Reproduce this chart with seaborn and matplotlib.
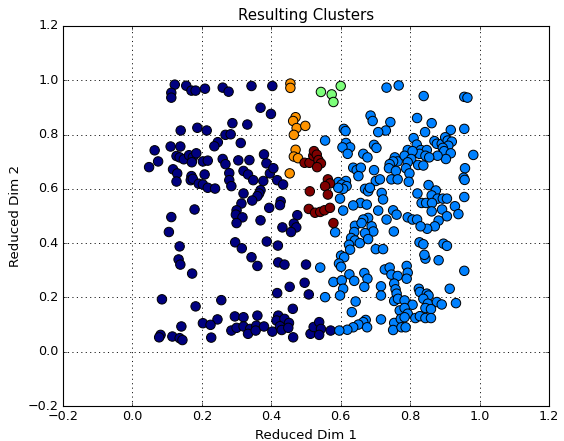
import matplotlib
matplotlib.use("Agg")
import matplotlib.pyplot as plt
import seaborn as sns
import pandas as pd
from matplotlib import cm

# ---------------- data ----------------
navy_x = [0.122, 0.155, 0.170, 0.182, 0.209, 0.112, 0.112, 0.260, 0.277,
          0.139, 0.187, 0.214, 0.268, 0.246, 0.236,
          0.064, 0.110, 0.138, 0.127, 0.136, 0.148, 0.163, 0.174, 0.184, 0.171,
          0.074, 0.048, 0.203, 0.217, 0.260, 0.268,
          0.117, 0.129, 0.127, 0.170, 0.168, 0.174, 0.191, 0.208, 0.203, 0.217, 0.238,
          0.279, 0.279, 0.285,
          0.179, 0.112, 0.105, 0.136, 0.133, 0.138, 0.172,
          0.085, 0.256, 0.182, 0.245, 0.203, 0.225, 0.141, 0.081, 0.077, 0.115, 0.136, 0.144, 0.227,
          0.343, 0.403, 0.369, 0.399, 0.288, 0.331, 0.283, 0.312, 0.379, 0.305, 0.337, 0.386,
          0.320, 0.333, 0.348, 0.377, 0.396, 0.406, 0.417, 0.434,
          0.320, 0.369, 0.365, 0.360, 0.345, 0.314, 0.300, 0.298, 0.317, 0.300,
          0.369, 0.394, 0.427, 0.425, 0.475, 0.465, 0.472, 0.457, 0.432,
          0.296, 0.315, 0.387, 0.419, 0.343,
          0.360, 0.420, 0.438, 0.500, 0.453, 0.496, 0.417, 0.508, 0.462,
          0.295, 0.320, 0.360, 0.420, 0.415, 0.438, 0.451,
          0.285, 0.300, 0.320, 0.339, 0.333, 0.357, 0.355, 0.379, 0.403, 0.425, 0.430,
          0.449, 0.463, 0.513, 0.522,
          0.538, 0.543, 0.538, 0.571]
navy_y = [0.984, 0.980, 0.962, 0.962, 0.969, 0.954, 0.936, 0.973, 0.958,
          0.815, 0.825, 0.815, 0.799, 0.772, 0.757,
          0.742, 0.756, 0.756, 0.721, 0.716, 0.709, 0.724, 0.716, 0.731, 0.698,
          0.701, 0.680, 0.701, 0.704, 0.710, 0.691,
          0.672, 0.657, 0.627, 0.647, 0.632, 0.637, 0.619, 0.653, 0.616, 0.604, 0.601,
          0.658, 0.632, 0.610,
          0.524, 0.496, 0.441, 0.388, 0.340, 0.321, 0.288,
          0.193, 0.190, 0.167, 0.119, 0.105, 0.099, 0.093, 0.062, 0.053, 0.056, 0.050, 0.043, 0.052,
          0.979, 0.979, 0.899, 0.876, 0.842, 0.837, 0.801, 0.769, 0.727, 0.705, 0.706, 0.694,
          0.666, 0.653, 0.632, 0.629, 0.657, 0.676, 0.632, 0.616,
          0.583, 0.595, 0.583, 0.573, 0.557, 0.546, 0.521, 0.505, 0.495, 0.474,
          0.484, 0.530, 0.554, 0.540, 0.503, 0.472, 0.458, 0.441, 0.458,
          0.403, 0.381, 0.406, 0.391, 0.348,
          0.316, 0.329, 0.321, 0.321, 0.239, 0.254, 0.216, 0.211, 0.158,
          0.130, 0.127, 0.133, 0.133, 0.115, 0.121, 0.106,
          0.078, 0.088, 0.093, 0.084, 0.066, 0.096, 0.078, 0.093, 0.074, 0.094, 0.080,
          0.088, 0.053, 0.066, 0.091,
          0.109, 0.084, 0.062, 0.078]

blue_x = [0.732, 0.767, 0.686, 0.692, 0.743, 0.730, 0.708, 0.609, 0.614, 0.555, 0.615,
          0.627, 0.605, 0.620, 0.696, 0.703, 0.665, 0.677, 0.756, 0.764, 0.751, 0.741,
          0.636, 0.646, 0.658, 0.651, 0.696, 0.739, 0.759,
          0.593, 0.615, 0.603, 0.617, 0.607, 0.593,
          0.701, 0.713, 0.746, 0.764,
          0.670, 0.679, 0.684, 0.718, 0.722, 0.598,
          0.657, 0.675, 0.636, 0.607, 0.708, 0.751, 0.761,
          0.679, 0.665, 0.732,
          0.584, 0.641, 0.660, 0.689, 0.694, 0.753, 0.639, 0.670,
          0.630, 0.641, 0.655, 0.679, 0.624, 0.627, 0.701, 0.722, 0.601, 0.610,
          0.541, 0.595, 0.601, 0.625, 0.668, 0.677, 0.639, 0.579, 0.603, 0.607, 0.668,
          0.727, 0.741, 0.746, 0.764, 0.754, 0.758, 0.761, 0.716, 0.716,
          0.555, 0.598, 0.643, 0.754, 0.765, 0.770, 0.632,
          0.672, 0.665, 0.651, 0.636, 0.619, 0.596, 0.676, 0.716, 0.754, 0.751, 0.773, 0.775,
          0.844, 0.882, 0.790, 0.793, 0.790, 0.956, 0.914, 0.825, 0.828, 0.848, 0.853, 0.838,
          0.784, 0.851, 0.877, 0.891, 0.932, 0.807, 0.784, 0.844, 0.860, 0.793, 0.784, 0.815,
          0.828, 0.844, 0.860, 0.787,
          0.839, 0.956, 0.965, 0.820, 0.862, 0.843, 0.917, 0.956, 0.810, 0.819, 0.793, 0.784,
          0.870, 0.877, 0.891, 0.901, 0.908, 0.920, 0.910, 0.894, 0.898, 0.917, 0.903,
          0.831, 0.848, 0.827, 0.844, 0.807, 0.803, 0.793, 0.879, 0.855, 0.982,
          0.788, 0.798, 0.796, 0.823, 0.838, 0.958, 0.954, 0.957, 0.853, 0.874, 0.862, 0.821,
          0.879, 0.894, 0.906, 0.833, 0.846, 0.863, 0.956, 0.862, 0.892, 0.929, 0.939, 0.906,
          0.793, 0.807, 0.820, 0.882, 0.871, 0.849, 0.830, 0.827, 0.838, 0.896, 0.906, 0.841]
blue_y = [0.973, 0.981, 0.870, 0.850, 0.846, 0.815, 0.809, 0.821, 0.813, 0.778, 0.769,
          0.753, 0.753, 0.729, 0.762, 0.751, 0.729, 0.716, 0.716, 0.701, 0.701, 0.691,
          0.678, 0.669, 0.678, 0.647, 0.669, 0.676, 0.666,
          0.625, 0.629, 0.616, 0.610, 0.600, 0.604,
          0.629, 0.635, 0.635, 0.635,
          0.600, 0.591, 0.604, 0.585, 0.561, 0.564,
          0.548, 0.542, 0.539, 0.520, 0.520, 0.521, 0.505,
          0.493, 0.487, 0.487,
          0.440, 0.464, 0.474, 0.462, 0.443, 0.443, 0.441, 0.437,
          0.419, 0.410, 0.400, 0.415, 0.394, 0.376, 0.378, 0.378, 0.354, 0.348,
          0.310, 0.325, 0.313, 0.285, 0.290, 0.269, 0.261, 0.257, 0.263, 0.232, 0.239,
          0.303, 0.310, 0.284, 0.279, 0.251, 0.230, 0.214, 0.241, 0.207,
          0.201, 0.207, 0.185, 0.187, 0.195, 0.152, 0.146,
          0.117, 0.109, 0.100, 0.090, 0.081, 0.078, 0.090, 0.119, 0.106, 0.080, 0.121, 0.090,
          0.343, 0.337, 0.316, 0.291, 0.269, 0.298, 0.232, 0.232, 0.220, 0.214, 0.207, 0.195,
          0.189, 0.177, 0.183, 0.174, 0.179, 0.173, 0.161, 0.161, 0.157, 0.140, 0.127, 0.124,
          0.131, 0.124, 0.124, 0.090,
          0.942, 0.939, 0.936, 0.861, 0.842, 0.809, 0.817, 0.821, 0.787, 0.763, 0.743, 0.722,
          0.776, 0.766, 0.766, 0.790, 0.778, 0.774, 0.759, 0.751, 0.739, 0.731, 0.710,
          0.743, 0.743, 0.729, 0.722, 0.739, 0.710, 0.698, 0.722, 0.716, 0.725,
          0.676, 0.657, 0.626, 0.688, 0.686, 0.676, 0.641, 0.633, 0.614, 0.594, 0.576, 0.583,
          0.564, 0.564, 0.564, 0.548, 0.548, 0.548, 0.570, 0.517, 0.524, 0.536, 0.507, 0.499,
          0.495, 0.487, 0.487, 0.483, 0.462, 0.453, 0.462, 0.403, 0.396, 0.398, 0.390, 0.357]

green_x = [0.543, 0.574, 0.579, 0.600]
green_y = [0.957, 0.948, 0.920, 0.979]

orange_x = [0.455, 0.455, 0.470, 0.463, 0.473, 0.498, 0.465, 0.470, 0.465, 0.477, 0.453]
orange_y = [0.988, 0.972, 0.864, 0.850, 0.824, 0.832, 0.799, 0.744, 0.719, 0.713, 0.657]

red_x = [0.496, 0.510, 0.521, 0.523, 0.531, 0.536, 0.543, 0.532, 0.563, 0.569,
         0.555, 0.563, 0.511, 0.508, 0.526, 0.541, 0.553, 0.569, 0.579]
red_y = [0.696, 0.696, 0.722, 0.739, 0.726, 0.706, 0.694, 0.680, 0.635, 0.620,
         0.610, 0.579, 0.591, 0.526, 0.512, 0.515, 0.521, 0.530, 0.474]

ticks = [-0.2, 0.0, 0.2, 0.4, 0.6, 0.8, 1.0, 1.2]

# ---------------- build frame ----------------
groups = [(0, navy_x, navy_y), (1, blue_x, blue_y), (2, green_x, green_y),
          (3, orange_x, orange_y), (4, red_x, red_y)]
rows = []
for lab, xs, ys in groups:
    for a, b in zip(xs, ys):
        rows.append({"x": a, "y": b, "cluster": lab})
df = pd.DataFrame(rows)

palette = {k: cm.jet(k / 4.0) for k in range(5)}

# ---------------- plot ----------------
plt.style.use("classic")
plt.rcParams["figure.facecolor"] = "white"
plt.rcParams["savefig.facecolor"] = "white"
plt.rcParams["font.family"] = ["DejaVu Sans"]

fig = plt.figure(figsize=(564 / 80, 441 / 80), dpi=80)
ax = fig.add_axes([63 / 564, 35 / 441, 486 / 564, 380 / 441])

sns.scatterplot(data=df, x="x", y="y", hue="cluster", palette=palette,
                s=72, edgecolor="black", linewidth=0.9, legend=False, ax=ax)

ax.set_xlim(-0.2, 1.2)
ax.set_ylim(-0.2, 1.2)
ax.set_xticks(ticks)
ax.set_yticks(ticks)
ax.grid(True, linestyle=":", color="black", linewidth=0.8)
ax.set_axisbelow(True)
ax.set_title("Resulting Clusters", fontsize=13.5)
ax.set_xlabel("Reduced Dim 1", fontsize=12)
ax.set_ylabel("Reduced Dim 2", fontsize=12)
ax.tick_params(labelsize=11.5)

fig.savefig("out.png", dpi=80)
